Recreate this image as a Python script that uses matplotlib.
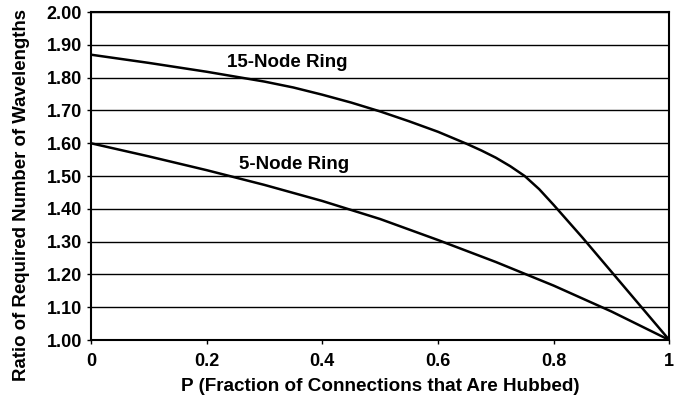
import numpy as np
import matplotlib.pyplot as plt

plt.rcParams['font.family'] = ['Liberation Sans', 'DejaVu Sans']
plt.rcParams['font.weight'] = 'bold'

# curve data
p15 = [0, 0.1, 0.2, 0.3, 0.35, 0.4, 0.45, 0.5, 0.55, 0.6, 0.65, 0.675, 0.7, 0.725, 0.75,
       0.775, 0.8, 0.85, 0.9, 0.95, 1.0]
r15 = [1.87, 1.845, 1.818, 1.788, 1.77, 1.748, 1.724, 1.697, 1.667, 1.635, 1.598, 1.578,
       1.556, 1.530, 1.500, 1.460, 1.412, 1.312, 1.208, 1.104, 1.00]
p5 = [0, 0.1, 0.2, 0.3, 0.4, 0.5, 0.6, 0.7, 0.8, 0.9, 1.0]
r5 = [1.60, 1.56, 1.518, 1.473, 1.424, 1.369, 1.305, 1.238, 1.166, 1.087, 1.00]

xticks = [0, 0.2, 0.4, 0.6, 0.8, 1]
xticklabels = ['0', '0.2', '0.4', '0.6', '0.8', '1']
yticks = np.round(np.arange(1.0, 2.01, 0.1), 2)

fig = plt.figure(figsize=(6.83, 4.01), dpi=100)
ax = fig.add_axes([0.133, 0.152, 0.847, 0.818])

for y in yticks:
    ax.axhline(y, color='black', lw=1.0, zorder=1)

ax.plot(p15, r15, color='black', lw=1.8, zorder=3)
ax.plot(p5, r5, color='black', lw=1.8, zorder=3)

ax.text(0.235, 1.845, '15-Node Ring', fontsize=13.5, fontweight='bold', va='center', ha='left')
ax.text(0.256, 1.535, '5-Node Ring', fontsize=13.5, fontweight='bold', va='center', ha='left')

ax.set_xlim(0, 1)
ax.set_ylim(1.0, 2.0)
ax.set_xticks(xticks)
ax.set_xticklabels(xticklabels)
ax.set_yticks(yticks)
ax.set_yticklabels([f'{v:.2f}' for v in yticks])
ax.tick_params(axis='both', labelsize=13, direction='out', length=3, width=1)
ax.tick_params(axis='x', pad=6)

for s in ax.spines.values():
    s.set_linewidth(1.5)

ax.set_xlabel('P (Fraction of Connections that Are Hubbed)', fontsize=13.6, fontweight='bold', labelpad=6)
fig.text(0.032, 0.514, 'Ratio of Required Number of Wavelengths', fontsize=13.4,
         fontweight='bold', rotation=90, ha='center', va='center')

fig.savefig('out.png', dpi=100)
